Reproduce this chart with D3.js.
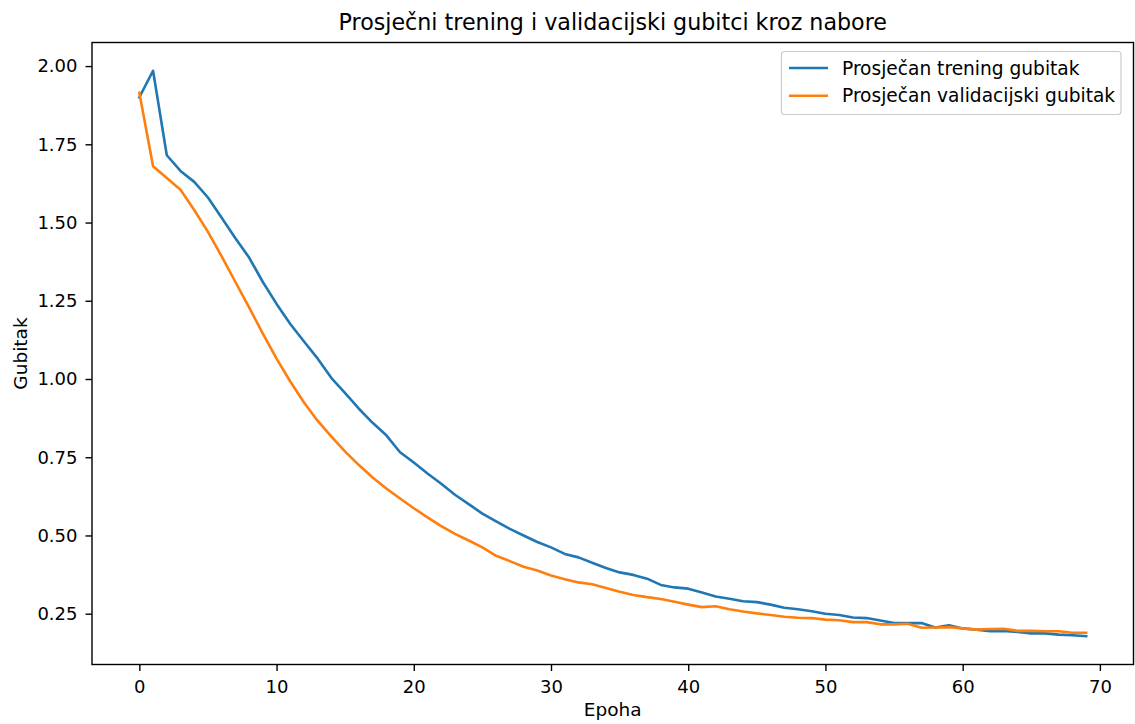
<!DOCTYPE html>
<html>
<head>
<meta charset="utf-8">
<script src="https://cdn.jsdelivr.net/npm/d3@7"></script>
<style>
html,body{margin:0;padding:0;background:#fff;}
svg text{font-family:"DejaVu Sans",sans-serif;fill:#000;}
</style>
</head>
<body>
<svg id="chart" width="1135" height="724"></svg>
<script>
const epochs = d3.range(0, 70);
const trainLoss = [
1.900,1.985,1.715,1.665,1.630,1.580,1.515,1.450,1.388,1.310,
1.240,1.176,1.120,1.065,1.003,0.955,0.905,0.860,0.820,0.766,
0.733,0.698,0.665,0.630,0.600,0.570,0.545,0.521,0.500,0.479,
0.462,0.441,0.430,0.413,0.396,0.382,0.374,0.362,0.342,0.334,
0.330,0.318,0.305,0.298,0.290,0.287,0.279,0.269,0.264,0.258,
0.250,0.246,0.238,0.236,0.228,0.220,0.220,0.220,0.206,0.213,
0.203,0.199,0.194,0.195,0.192,0.187,0.187,0.183,0.181,0.178];
const valLoss = [
1.915,1.680,1.642,1.605,1.540,1.470,1.392,1.310,1.229,1.145,
1.065,0.992,0.925,0.866,0.816,0.768,0.725,0.685,0.650,0.618,
0.587,0.558,0.530,0.505,0.484,0.462,0.435,0.418,0.400,0.388,
0.372,0.360,0.350,0.344,0.332,0.320,0.310,0.303,0.297,0.288,
0.279,0.271,0.274,0.264,0.257,0.251,0.246,0.240,0.237,0.236,
0.231,0.229,0.223,0.223,0.216,0.216,0.218,0.205,0.206,0.207,
0.203,0.199,0.201,0.202,0.195,0.195,0.194,0.194,0.189,0.189];
const xTicks = [0,10,20,30,40,50,60,70];
const yTicks = [0.25,0.50,0.75,1.00,1.25,1.50,1.75,2.00];
const seriesNames = ["Prosječan trening gubitak","Prosječan validacijski gubitak"];
const colors = ["#1f77b4","#ff7f0e"];
const titleText = "Prosječni trening i validacijski gubitci kroz nabore";
const xLabel = "Epoha", yLabel = "Gubitak";

const L = 92, R = 1133.5, T = 42.5, B = 664.5;
const svg = d3.select("#chart");

const allVals = trainLoss.concat(valLoss);
const xmin = 0, xmax = 69;
const ymin = d3.min(allVals), ymax = d3.max(allVals);
const xm = (xmax - xmin) * 0.05, ym = (ymax - ymin) * 0.05;
const x = d3.scaleLinear().domain([xmin - xm, xmax + xm]).range([L, R]);
const y = d3.scaleLinear().domain([ymin - ym, ymax + ym]).range([B, T]);

const g = svg.append("g");
svg.append("defs").append("clipPath").attr("id","clip")
  .append("rect").attr("x",L).attr("y",T).attr("width",R-L).attr("height",B-T);

const line = d3.line().x((d,i)=>x(epochs[i])).y(d=>y(d));
[trainLoss, valLoss].forEach((s,k)=>{
  g.append("path").datum(s).attr("d", line)
    .attr("fill","none").attr("stroke",colors[k]).attr("stroke-width",2.6)
    .attr("stroke-linejoin","round").attr("stroke-linecap","square")
    .attr("clip-path","url(#clip)");
});

// axes
const xAxis = d3.axisBottom(x).tickValues(xTicks).tickSize(6.5).tickPadding(9).tickFormat(d3.format("d"));
const yAxis = d3.axisLeft(y).tickValues(yTicks).tickSize(6.5).tickPadding(8).tickFormat(d3.format(".2f"));
const gx = svg.append("g").attr("transform",`translate(0,${B})`).call(xAxis);
const gy = svg.append("g").attr("transform",`translate(${L},0)`).call(yAxis);
[gx,gy].forEach(a=>{
  a.select(".domain").remove();
  a.selectAll(".tick line").attr("stroke","#000").attr("stroke-width",1.4);
  a.selectAll(".tick text").attr("font-size",18).attr("fill","#000").attr("font-family","DejaVu Sans");
});
// frame
svg.append("rect").attr("x",L).attr("y",T).attr("width",R-L).attr("height",B-T)
  .attr("fill","none").attr("stroke","#000").attr("stroke-width",1.4);

svg.append("text").attr("x",(L+R)/2).attr("y",29.5).attr("text-anchor","middle")
  .attr("font-size",22.2).text(titleText);
svg.append("text").attr("x",(L+R)/2).attr("y",716).attr("text-anchor","middle")
  .attr("font-size",18.5).text(xLabel);
svg.append("text").attr("transform",`translate(27,${(T+B)/2}) rotate(-90)`)
  .attr("text-anchor","middle").attr("font-size",18.5).text(yLabel);

// legend
const lg = svg.append("g");
lg.append("rect").attr("x",781.5).attr("y",51.5).attr("width",339.5).attr("height",63).attr("rx",3)
  .attr("fill","#fff").attr("fill-opacity",0.8).attr("stroke","#ccc").attr("stroke-width",1.2);
seriesNames.forEach((n,k)=>{
  const yy = 68 + k*27.7;
  lg.append("line").attr("x1",789).attr("x2",828).attr("y1",yy).attr("y2",yy)
    .attr("stroke",colors[k]).attr("stroke-width",2.6);
  lg.append("text").attr("x",842).attr("y",yy+6.5).attr("font-size",18.6).text(n);
});
</script>
</body>
</html>
